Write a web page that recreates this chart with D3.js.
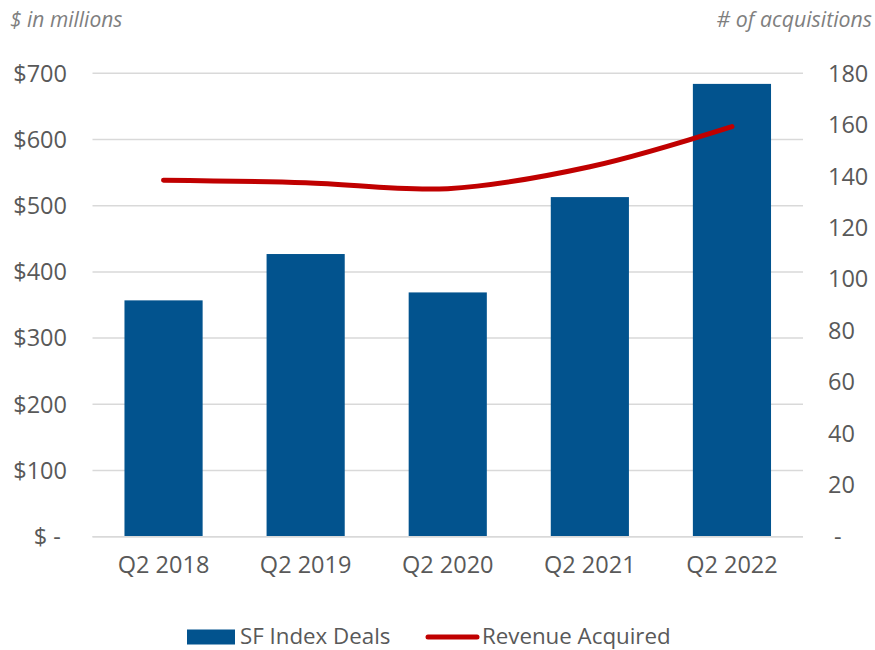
<!DOCTYPE html>
<html><head><meta charset="utf-8">
<script src="https://cdn.jsdelivr.net/npm/d3@7"></script>
<style>
body{margin:0;background:#fff;}
text{font-family:"Open Sans",sans-serif;}
</style></head>
<body><svg id="c" width="875" height="650"></svg>
<script>
const categories = ["Q2 2018","Q2 2019","Q2 2020","Q2 2021","Q2 2022"];
const dealValues = [357, 427, 369, 513, 684];          // $ in millions (bars)
const acquisitions = [138.5, 137.5, 135.2, 143.7, 159.3]; // # of acquisitions (line)
const leftTicks = [0,100,200,300,400,500,600,700];
const leftTickLabels = ["$ - ","$100","$200","$300","$400","$500","$600","$700"];
const rightTicks = [0,20,40,60,80,100,120,140,160,180];
const rightTickLabels = [" - ","20","40","60","80","100","120","140","160","180"];
const seriesNames = ["SF Index Deals","Revenue Acquired"];

(function(){
const svg = d3.select("#c");
const pL = 92.5, pR = 803, pT = 73.3, pB = 536.7;
const x = d3.scaleBand().domain(categories).range([pL,pR]).paddingInner(0.45).paddingOuter(0.225);
const yL = d3.scaleLinear().domain([0,700]).range([pB,pT]);
const yR = d3.scaleLinear().domain([0,180]).range([pB,pT]);
const txt = "#595959";
const fs = 23.5;

svg.append("g").selectAll("line").data(leftTicks).join("line")
  .attr("x1",pL).attr("x2",pR)
  .attr("y1",d=>yL(d)).attr("y2",d=>yL(d))
  .attr("stroke","#d9d9d9").attr("stroke-width",1.5);

svg.append("g").selectAll("text").data(leftTicks).join("text")
  .attr("x",67).attr("y",d=>yL(d)).attr("dy","0.35em")
  .attr("text-anchor","end").style("white-space","pre")
  .attr("font-size",fs).attr("fill",txt)
  .text((d,i)=>leftTickLabels[i]);

svg.append("g").selectAll("text").data(rightTicks).join("text")
  .attr("x",828).attr("y",d=>yR(d)).attr("dy","0.35em")
  .attr("text-anchor","start").style("white-space","pre")
  .attr("font-size",fs).attr("fill",txt)
  .text((d,i)=>rightTickLabels[i]);

svg.append("text").attr("x",10).attr("y",27).attr("font-size",21).attr("font-style","italic")
  .attr("fill","#7f7f7f").text("$ in millions");
svg.append("text").attr("x",872).attr("y",27).attr("font-size",21.3).attr("font-style","italic")
  .attr("text-anchor","end").attr("fill","#7f7f7f").text("# of acquisitions");

svg.append("g").selectAll("rect").data(dealValues).join("rect")
  .attr("x",(d,i)=>x(categories[i])).attr("width",x.bandwidth())
  .attr("y",d=>yL(d)).attr("height",d=>yL(0)-yL(d))
  .attr("fill","#02538e");

svg.append("line").attr("x1",pL).attr("x2",pR).attr("y1",yL(0)).attr("y2",yL(0))
  .attr("stroke","#d9d9d9").attr("stroke-width",1.5);

const line = d3.line().x((d,i)=>x(categories[i])+x.bandwidth()/2).y(d=>yR(d))
  .curve(d3.curveCatmullRom.alpha(0.5));
svg.append("path").datum(acquisitions).attr("d",line)
  .attr("fill","none").attr("stroke","#c00000").attr("stroke-width",5)
  .attr("stroke-linecap","round").attr("stroke-linejoin","round");

svg.append("g").selectAll("text").data(categories).join("text")
  .attr("x",d=>x(d)+x.bandwidth()/2).attr("y",572.5)
  .attr("text-anchor","middle").attr("font-size",fs).attr("fill",txt).text(d=>d);

const lg = svg.append("g");
lg.append("rect").attr("x",187).attr("y",629.5).attr("width",48).attr("height",15).attr("fill","#02538e");
lg.append("text").attr("x",240).attr("y",643.5).attr("font-size",22.3).attr("fill",txt).text(seriesNames[0]);
lg.append("line").attr("x1",428).attr("x2",477).attr("y1",637).attr("y2",637)
  .attr("stroke","#c00000").attr("stroke-width",5).attr("stroke-linecap","round");
lg.append("text").attr("x",482).attr("y",643.5).attr("font-size",22.3).attr("fill",txt).text(seriesNames[1]);
})();
</script></body></html>
